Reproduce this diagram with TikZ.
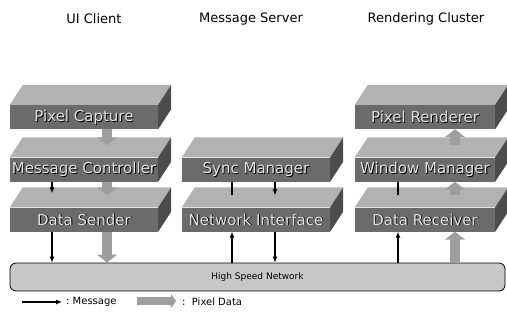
\documentclass[tikz,border=0pt]{standalone}
\usepackage{fontspec}
\setmainfont{DejaVu Sans}
\usetikzlibrary{arrows.meta,calc,backgrounds}

\tikzset{
  header/.style={font=\fontsize{13}{14}\selectfont},
  slabfront/.style={fill=black!58, minimum height=24pt, inner sep=0pt,
    text=black!12, font=\fontsize{15}{15}\selectfont},
  slabtop/.style={fill=black!30},
  slabside/.style={fill=black!70},
  msg/.style={line width=1.1pt, -{Latex[length=6pt,width=5pt]}},
  msgline/.style={line width=1.1pt},
  pixflow/.style={line width=10pt, draw=black!38, -{Triangle[width=20pt,length=8pt]}},
  network/.style={draw, line width=0.8pt, fill=black!22, rounded corners=6pt,
    minimum width=495pt, minimum height=28pt, inner sep=0pt,
    font=\fontsize{9}{9}\selectfont},
  legendtext/.style={font=\fontsize{10}{10}\selectfont, anchor=west, inner sep=0pt},
}

% A 3D slab: name, centre x, centre y of the front face, width, label
\newcommand\slab[5]{%
  \node[slabfront, minimum width=#4pt,
    path picture={\node[text=black, font=\fontsize{15}{15}\selectfont]
      at ([shift={(0.9,0.9)}]path picture bounding box.center) {#5};}]
    (#1) at (#2,#3) {#5};
  \begin{scope}[on background layer]
    \fill[slabtop] (#1.north west) -- ++(13,-20)
      -- ($(#1.north east)+(13,-20)$) -- (#1.north east) -- cycle;
    \fill[slabside] (#1.north east) -- ++(13,-20)
      -- ($(#1.south east)+(13,-20)$) -- (#1.south east) -- cycle;
  \end{scope}
}

\begin{document}
\begin{tikzpicture}[x=1pt,y=-1pt]
\useasboundingbox (0,0) rectangle (507,325);

% column headings
\node[header] (hui)  at (94,19)  {UI Client};
\node[header] (hms)  at (251,19) {Message Server};
\node[header] (hrc)  at (426,19) {Rendering Cluster};

% UI client stack
\slab{pc}{84}{117}{148}{Pixel Capture}
\slab{mc}{84}{169.5}{148}{Message Controller}
\slab{ds}{84}{219.5}{148}{Data Sender}

% message server stack
\slab{sm}{256}{169.5}{148}{Sync Manager}
\slab{ni}{256}{219.5}{148}{Network Interface}

% rendering cluster stack
\slab{pr}{425}{117}{140}{Pixel Renderer}
\slab{wm}{425}{169.5}{140}{Window Manager}
\slab{dr}{425}{219.5}{140}{Data Receiver}

% shared network
\node[network] (net) at (257.5,277) {High Speed Network};

% UI client flows
\draw[msg] ([xshift=-32pt]mc.south) -- ([xshift=-32pt,yshift=14pt]ds.north);
\draw[msg] ([xshift=-32pt]ds.south) -- ([xshift=-32pt]ds.south |- net.north);
\draw[pixflow] ([xshift=23pt]pc.south) -- ([xshift=23pt,yshift=12pt]mc.north);
\draw[pixflow] ([xshift=23pt]mc.south) -- ([xshift=23pt,yshift=12pt]ds.north);
\draw[pixflow] ([xshift=23pt]ds.south) -- ([xshift=23pt]ds.south |- net.north);

% message server flows
\draw[msgline] ([xshift=-24pt]sm.south) -- ([xshift=-24pt,yshift=12pt]ni.north);
\draw[msg] ([xshift=19pt]sm.south) -- ([xshift=19pt,yshift=12pt]ni.north);
\draw[msg] ([xshift=-24pt]ni.south |- net.north) -- ([xshift=-24pt]ni.south);
\draw[msg] ([xshift=19pt]ni.south) -- ([xshift=19pt]ni.south |- net.north);

% rendering cluster flows
\draw[msgline] ([xshift=-27pt]wm.south) -- ([xshift=-27pt,yshift=12pt]dr.north);
\draw[msg] ([xshift=-27pt]dr.south |- net.north) -- ([xshift=-27pt]dr.south);
\draw[pixflow] ([xshift=30pt]dr.south |- net.north) -- ([xshift=30pt]dr.south);
\draw[pixflow] ([xshift=30pt,yshift=12pt]dr.north) -- ([xshift=30pt]wm.south);
\draw[pixflow] ([xshift=30pt,yshift=12pt]wm.north) -- ([xshift=30pt]pr.south);

% legend
\coordinate (lm0) at (22,302);
\coordinate (lm1) at (62,302);
\draw[msg] (lm0) -- (lm1);
\node[legendtext] (lmtext) at (66,302) {:\ Message};
\coordinate (lp0) at (137,301);
\coordinate (lp1) at (176,301);
\draw[pixflow, line width=8pt, -{Triangle[width=14pt,length=5pt]}] (lp0) -- (lp1);
\node[legendtext] (lptext) at (182,302) {:\ \ Pixel Data};
\end{tikzpicture}
\end{document}
